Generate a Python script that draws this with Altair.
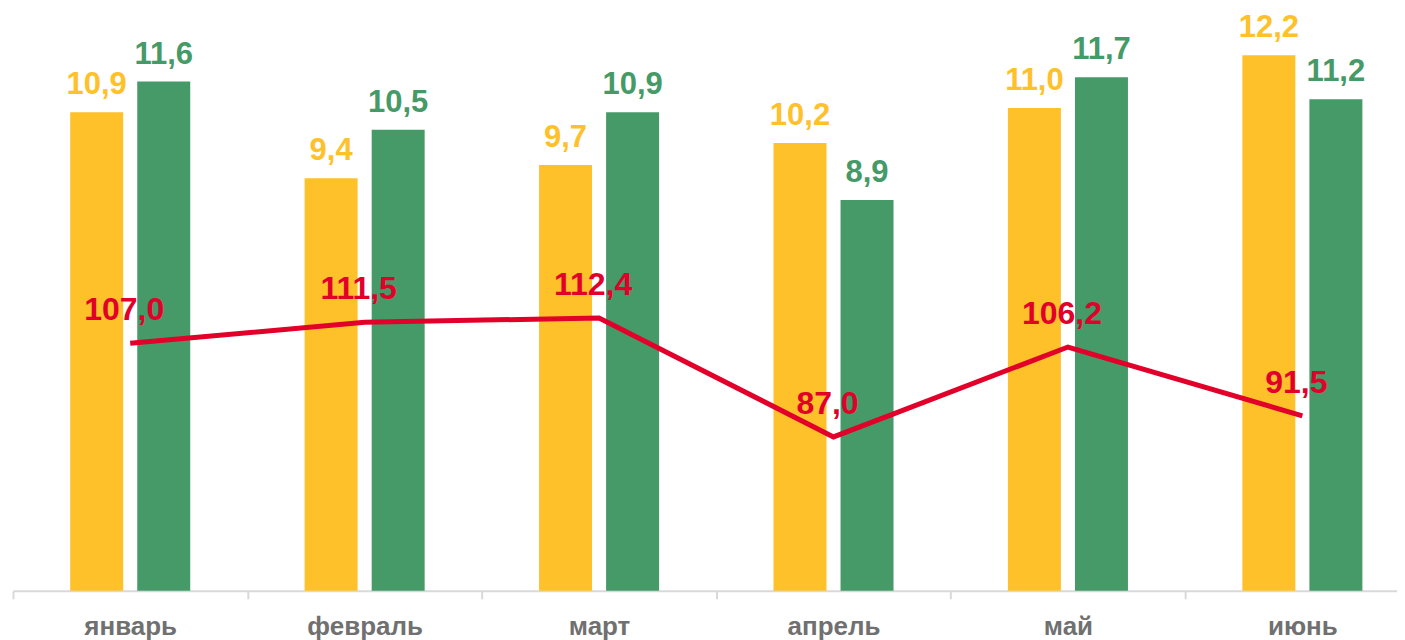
import json
import altair as alt
import pandas as pd

months = ["январь", "февраль", "март", "апрель", "май", "июнь"]
series_a = [10.9, 9.4, 9.7, 10.2, 11.0, 12.2]
series_b = [11.6, 10.5, 10.9, 8.9, 11.7, 11.2]
index_line = [107.0, 111.5, 112.4, 87.0, 106.2, 91.5]

YELLOW = "#FFC12A"
GREEN = "#459A67"
RED = "#E2002B"

rows = []
for i, m in enumerate(months):
    rows.append({"idx": i, "month": m, "s": 0, "v": series_a[i]})
    rows.append({"idx": i, "month": m, "s": 1, "v": series_b[i]})
bars_df = pd.DataFrame(rows)
line_df = pd.DataFrame({"idx": list(range(len(months))), "month": months, "v": index_line})

PLOT_W = 1385
XMAX = PLOT_W / 234.6
x_scale = alt.Scale(domain=[0, XMAX], nice=False, zero=False, padding=0)
yb_scale = alt.Scale(domain=[0, 583 / 43.93], nice=False, padding=0)
yl_scale = alt.Scale(domain=[54.13, 178.57], nice=False, zero=False, padding=0)

label_expr = json.dumps(months) + "[datum.value]"

x_axis = alt.Axis(values=[0, 1, 2, 3, 4, 5], labelExpr=label_expr,
                  labelOffset=117.3, labelFlush=False, labelOverlap=False,
                  grid=False, tickSize=8, tickWidth=2, tickColor="#d9d9d9",
                  domainColor="#d9d9d9", domainWidth=2,
                  labelFontSize=26, labelFontWeight="bold",
                  labelColor="#707070", labelPadding=15,
                  labelFont="Liberation Sans")

base_bars = alt.Chart(bars_df).transform_calculate(
    xc="datum.idx + 0.5 + (datum.s == 0 ? -0.143 : 0.143)",
    x1="datum.xc - 0.113",
    x2="datum.xc + 0.113",
    zero="0",
    lab="replace(format(datum.v, '.1f'), '.', ',')",
)

color_enc = alt.Color("s:N", scale=alt.Scale(domain=[0, 1], range=[YELLOW, GREEN]), legend=None)

bars = base_bars.mark_bar().encode(
    x=alt.X("x1:Q", scale=x_scale, title=None, axis=x_axis),
    x2="x2:Q",
    y=alt.Y("v:Q", scale=yb_scale, axis=None),
    y2="zero:Q",
    color=color_enc,
)

bar_text = base_bars.mark_text(fontSize=31, fontWeight="bold", font="Liberation Sans",
                               dy=-27, baseline="middle", align="center").encode(
    x=alt.X("xc:Q", scale=x_scale, title=None, axis=x_axis),
    y=alt.Y("v:Q", scale=yb_scale, axis=None),
    text="lab:N",
    color=color_enc,
)

base_line = alt.Chart(line_df).transform_calculate(
    xc="datum.idx + 0.5",
    lab="replace(format(datum.v, '.1f'), '.', ',')",
)

line = base_line.mark_line(color=RED, strokeWidth=5).encode(
    x=alt.X("xc:Q", scale=x_scale, title=None, axis=x_axis),
    y=alt.Y("v:Q", scale=yl_scale, axis=None),
)

line_text = base_line.mark_text(fontSize=32, fontWeight="bold", font="Liberation Sans",
                                color=RED, dx=-6, dy=-33, baseline="middle", align="center").encode(
    x=alt.X("xc:Q", scale=x_scale, title=None, axis=x_axis),
    y=alt.Y("v:Q", scale=yl_scale, axis=None),
    text="lab:N",
)

chart = alt.layer(bars, bar_text, line, line_text).resolve_scale(
    y="independent", color="independent"
).properties(
    width=PLOT_W, height=583,
    padding={"left": 4, "top": 0, "right": 0, "bottom": 0},
    background="white",
).configure_view(stroke=None).configure_scale(continuousPadding=0)

chart.save("out.html", embed_options={"renderer": "svg", "actions": False})
